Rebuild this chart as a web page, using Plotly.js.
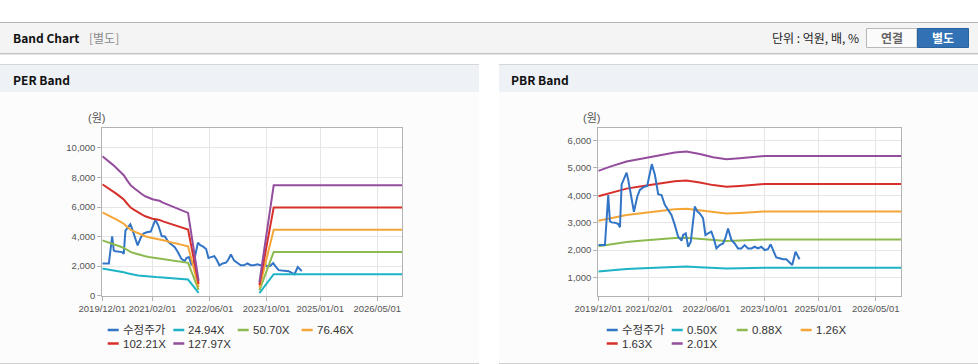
<!DOCTYPE html>
<html><head><meta charset="utf-8">
<script src="https://cdn.plot.ly/plotly-3.0.1.min.js"></script>
<style>html,body{margin:0;padding:0;background:#fff;}#chart{width:978px;height:364px;}</style>
</head><body><div id="chart"></div>
<script>
// ---------------- data ----------------
const seriesNamesPER = ['수정주가','24.94X','50.70X','76.46X','102.21X','127.97X'];
const seriesNamesPBR = ['수정주가','0.50X','0.88X','1.26X','1.63X','2.01X'];
const seriesColors = ['#3274c6','#1fb3c6','#8cba50','#f3a536','#d7302b','#944d9d'];

const tickDates = ['2019-12-01','2021-02-01','2022-06-01','2023-10-01','2025-01-01','2026-05-01'];
const tickLabels = ['2019/12/01','2021/02/01','2022/06/01','2023/10/01','2025/01/01','2026/05/01'];

const priceDates = ['2019-12-01','2020-01-26','2020-02-23','2020-03-08','2020-03-22','2020-04-20','2020-05-18','2020-06-01','2020-06-15','2020-07-27','2020-08-10','2020-09-27','2020-10-25','2020-11-16','2020-12-14','2021-01-17','2021-02-25','2021-03-23','2021-04-20','2021-05-18','2021-06-15','2021-07-13','2021-08-10','2021-09-07','2021-10-05','2021-11-03','2021-11-17','2021-12-09','2021-12-29','2022-01-20','2022-02-23','2022-03-15','2022-04-06','2022-05-04','2022-05-24','2022-06-15','2022-07-13','2022-08-02','2022-08-25','2022-09-22','2022-10-20','2022-11-08','2022-12-01','2022-12-29','2023-01-26','2023-02-23','2023-03-23','2023-04-20','2023-05-19','2023-06-16','2023-07-14','2023-08-11','2023-09-08','2023-10-06','2023-11-03','2023-11-26','2023-12-15','2024-01-12','2024-02-09','2024-03-09','2024-04-06','2024-05-04','2024-05-26','2024-06-23','2024-07-13','2024-07-27'];
const priceValues = [2180,2180,4010,3050,3010,3000,2950,2830,4400,4830,4560,3400,3950,4200,4290,4340,5140,4750,4040,4010,3650,3460,3280,2920,2490,2340,2550,2610,2120,2300,3590,3420,3340,3160,2550,2610,2670,2430,2060,2180,2240,2430,2790,2370,2240,2060,2060,2180,2060,2060,2120,2060,2120,2000,2030,2210,2000,1730,1700,1660,1660,1540,1450,1940,1780,1660];

const perBandDates = ['2019-12-01','2020-01-01','2020-02-01','2020-03-01','2020-04-01','2020-05-01','2020-06-01','2020-07-01','2020-08-01','2020-09-01','2020-10-01','2020-11-01','2020-12-01','2021-01-01','2021-02-01','2021-03-01','2021-04-01','2021-05-01','2021-06-01','2021-07-01','2021-08-01','2021-09-01','2021-10-01','2021-11-01','2021-12-01','2022-03-01','2022-09-01','2023-08-01','2023-12-01','2026-12-01'];
const per2494 = [1841,1803,1763,1726,1681,1636,1589,1519,1452,1414,1374,1342,1312,1289,1272,1262,1252,1227,1207,1182,1170,1145,1127,1110,1092,195,null,175,1460,1460];
const per5070 = [3742,3666,3584,3508,3417,3326,3230,3088,2951,2875,2794,2728,2667,2621,2586,2565,2545,2494,2454,2403,2378,2327,2292,2256,2221,395,null,355,2965,2965];
const per7646 = [5643,5528,5406,5291,5153,5016,4871,4656,4450,4335,4213,4113,4022,3953,3899,3869,3838,3762,3701,3624,3586,3510,3456,3402,3349,596,null,535,4470,4470];
const per10221 = [7543,7390,7226,7073,6889,6705,6511,6225,5949,5795,5632,5499,5376,5284,5213,5172,5131,5029,4947,4845,4794,4692,4620,4548,4477,797,null,715,5975,5975];
const per12797 = [9444,9252,9048,8856,8625,8395,8152,7793,7448,7256,7051,6885,6731,6616,6526,6475,6424,6296,6194,6066,6002,5874,5784,5695,5605,998,null,896,7480,7480];

const pbrBandDates = ['2019-12-01','2020-03-10','2020-07-27','2020-12-14','2021-05-04','2021-09-07','2021-12-14','2022-04-06','2022-07-27','2022-11-17','2023-03-09','2023-06-30','2023-10-06','2026-12-01'];
const pbr050 = [1217,1256,1302,1332,1363,1384,1393,1372,1342,1323,1332,1342,1354,1354];
const pbr088 = [2142,2211,2292,2344,2398,2436,2452,2414,2361,2328,2344,2361,2382,2382];
const pbr126 = [3067,3165,3281,3357,3434,3488,3510,3456,3381,3334,3357,3381,3411,3411];
const pbr163 = [3967,4095,4245,4342,4442,4512,4541,4471,4373,4313,4342,4373,4412,4412];
const pbr201 = [4892,5049,5234,5355,5477,5564,5600,5513,5393,5318,5355,5393,5441,5441];

const perYTicks = [0,2000,4000,6000,8000,10000];
const pbrYTicks = [1000,2000,3000,4000,5000,6000];

// ---------------- layout helpers ----------------
const W = 978, H = 364;
const fx = x => x / W;
const fy = y => 1 - y / H;

const perBands = [per2494, per5070, per7646, per10221, per12797];
const pbrBands = [pbr050, pbr088, pbr126, pbr163, pbr201];

const traces = [];
traces.push({type:'scatter', mode:'lines', x:priceDates, y:priceValues, name:seriesNamesPER[0], xaxis:'x', yaxis:'y', line:{color:seriesColors[0], width:2}, showlegend:false});
perBands.forEach((b,i)=>traces.push({type:'scatter', mode:'lines', x:perBandDates, y:b, name:seriesNamesPER[i+1], xaxis:'x', yaxis:'y', line:{color:seriesColors[i+1], width:2}, connectgaps:false, showlegend:false}));
pbrBands.forEach((b,i)=>traces.push({type:'scatter', mode:'lines', x:pbrBandDates, y:b, name:seriesNamesPBR[i+1], xaxis:'x2', yaxis:'y2', line:{color:seriesColors[i+1], width:2}, showlegend:false}));
traces.push({type:'scatter', mode:'lines', x:priceDates, y:priceValues, name:seriesNamesPBR[0], xaxis:'x2', yaxis:'y2', line:{color:seriesColors[0], width:2}, showlegend:false});

const tickFont = {family:'Liberation Sans, Arial', size:9.5, color:'#555'};
function xAxis(l, r, yref){
  return {domain:[fx(l), fx(r)], anchor:yref, type:'date', range:['2019-12-01','2026-12-01'],
    tickmode:'array', tickvals:tickDates, ticktext:tickLabels, tickfont:tickFont, tickangle:0,
    showgrid:true, gridcolor:'#e6e6e6', gridwidth:1, zeroline:false,
    showline:true, linecolor:'#b3b3b3', linewidth:1, mirror:true,
    ticks:'outside', ticklen:4, tickcolor:'#b3b3b3'};
}
function yAxis(range, tv, xref){
  return {domain:[fy(295.7), fy(128.3)], anchor:xref, range:range,
    tickmode:'array', tickvals:tv, tickformat:',d', tickfont:tickFont,
    showgrid:true, gridcolor:'#e6e6e6', gridwidth:1, zeroline:false,
    showline:true, linecolor:'#b3b3b3', linewidth:1, mirror:true,
    ticks:'outside', ticklen:4, tickcolor:'#b3b3b3'};
}

const shapes = [];
const rect = (x0,y0,x1,y1,fill,line) => shapes.push({type:'rect', xref:'paper', yref:'paper', x0:fx(x0), x1:fx(x1), y0:fy(y1), y1:fy(y0), fillcolor:fill, line:line?{color:line,width:1}:{width:0}, layer:'below'});
const hline = (x0,x1,y,color,w) => shapes.push({type:'line', xref:'paper', yref:'paper', x0:fx(x0), x1:fx(x1), y0:fy(y), y1:fy(y), line:{color:color,width:w||1}, layer:'below'});

// header bar
rect(0,22,978,53,'#f4f4f4');
hline(0,978,22.5,'#b6b6b6');
hline(0,978,53.5,'#c4c4c4');
hline(0,978,54.5,'#e4e4e4');
// panels
[[0,479],[499,978]].forEach(([a,b])=>{
  rect(a,64,b,92,'#eef2f7');
  rect(a,92,b,363,'#fcfcfc');
  hline(a,b,64.5,'#d6d6d6');
  hline(a,b,363.5,'#cfcfcf');
});
// plot areas
rect(102.3,128.3,402.3,295.7,'#ffffff');
rect(598.3,128.3,901,295.7,'#ffffff');
// buttons
rect(866.5,28.5,917,47.5,'#fbfbfb','#b8b8b8');
rect(917.5,28.5,968.5,47.5,'#3272b4','#2a62a0');

const annotations = [];
const txt = (x,y,t,opts) => annotations.push(Object.assign({xref:'paper', yref:'paper', x:fx(x), y:fy(y), text:t, showarrow:false, xanchor:'left', yanchor:'middle', font:{family:'Noto Sans CJK KR, Noto Sans', size:12, color:'#222'}}, opts||{}));

txt(11,38,'Band Chart',{font:{family:'Noto Sans CJK KR, Noto Sans', size:12, color:'#111', weight:'bold'}});
txt(87,38,'[별도]',{font:{family:'Noto Sans CJK KR', size:12, color:'#8a8a8a'}});
txt(861,38,'단위 : 억원, 배, %',{xanchor:'right', font:{family:'Noto Sans CJK KR', size:12, color:'#222'}});
txt(891.7,38,'연결',{xanchor:'center', font:{family:'Noto Sans CJK KR', size:12, color:'#666', weight:'bold'}});
txt(943,38,'별도',{xanchor:'center', font:{family:'Noto Sans CJK KR', size:12, color:'#ffffff', weight:'bold'}});
txt(11,79,'PER Band',{font:{family:'Noto Sans CJK KR, Noto Sans', size:12, color:'#111', weight:'bold'}});
txt(509,79,'PBR Band',{font:{family:'Noto Sans CJK KR, Noto Sans', size:12, color:'#111', weight:'bold'}});
txt(86,118,'(원)',{font:{family:'Liberation Sans, Noto Sans CJK KR', size:11, color:'#555'}});
txt(581,118,'(원)',{font:{family:'Liberation Sans, Noto Sans CJK KR', size:11, color:'#555'}});

// custom legends
function legend(names, cols){
  const rows = [330, 343.5];
  names.forEach((n,i)=>{
    const x = cols[i%4], y = rows[Math.floor(i/4)];
    shapes.push({type:'line', xref:'paper', yref:'paper', x0:fx(x), x1:fx(x+11), y0:fy(y), y1:fy(y), line:{color:seriesColors[i], width:2.5}});
    txt(x+13,y,n,{font:{family:'Liberation Sans, Noto Sans CJK KR', size:11.5, color:'#333'}});
  });
}
legend(seriesNamesPER,[107.7,173.3,237.7,301.7]);
legend(seriesNamesPBR,[606.7,671.7,736.7,800.7]);

const layout = {
  width:W, height:H, margin:{l:0,r:0,t:0,b:0},
  paper_bgcolor:'#ffffff', plot_bgcolor:'rgba(0,0,0,0)',
  showlegend:false,
  xaxis:xAxis(102.3,402.3,'y'),
  yaxis:yAxis([0,11330],perYTicks,'x'),
  xaxis2:xAxis(598.3,901,'y2'),
  yaxis2:yAxis([330,6450],pbrYTicks,'x2'),
  shapes:shapes, annotations:annotations
};
Plotly.newPlot('chart', traces, layout, {staticPlot:true, displayModeBar:false});
</script></body></html>
